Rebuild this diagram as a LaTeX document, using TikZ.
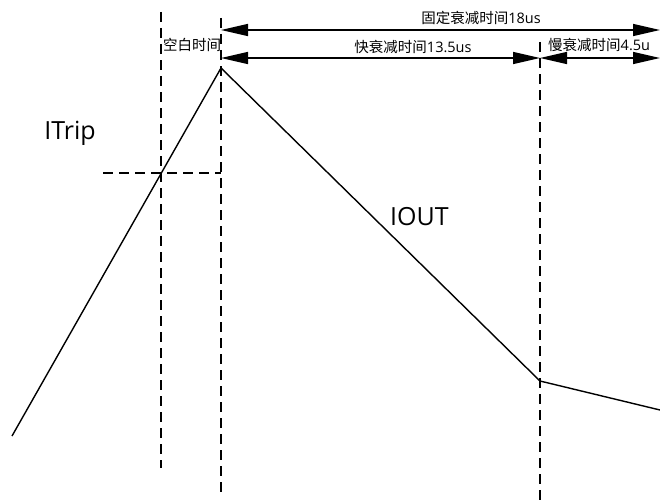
\documentclass[tikz,border=0pt]{standalone}
\usepackage{fontspec}
\setmainfont{Open Sans}
\newfontfamily\cjk{Noto Sans CJK SC}
\usetikzlibrary{arrows.meta}
\begin{document}
\begin{tikzpicture}[x=1pt,y=-1pt,
  guide/.style={line width=1.4pt,dash pattern=on 10pt off 6pt},
  curve/.style={line width=1.4pt,line join=miter},
  span/.style={line width=1.4pt,{Triangle[length=27pt,width=12pt]}-{Triangle[length=27pt,width=12pt]}},
  lbl/.style={inner sep=0pt,font=\fontsize{14.5}{16}\selectfont},
  big/.style={inner sep=0pt,font=\fontsize{25}{28}\selectfont}]
\useasboundingbox (0,0) rectangle (660,503);
% guide lines
\coordinate (g1t) at (161,12);  \coordinate (g1b) at (161,468);
\coordinate (g2t) at (221,18);  \coordinate (g2b) at (221,492);
\coordinate (g3t) at (540,42);  \coordinate (g3b) at (540,503);
\coordinate (hl) at (103,173);  \coordinate (hr) at (221,173);
\draw[guide] (g1t) -- (g1b);
\draw[guide] (g2t) -- (g2b);
\draw[guide] (g3t) -- (g3b);
\draw[guide] (hl) -- (hr);
% current curve
\coordinate (p0) at (12,436);
\coordinate (p1) at (221,68);
\coordinate (p2) at (540,381);
\coordinate (p3) at (660,410);
\draw[curve] (p0) -- (p1) -- (p2) -- (p3);
% spans
\coordinate (a1l) at (221,30); \coordinate (a1r) at (660,30);
\coordinate (a2l) at (221,58); \coordinate (a2m) at (540,58); \coordinate (a2r) at (660,58);
\draw[span] (a1l) -- (a1r);
\draw[span] (a2l) -- (a2m);
\draw[span] (a2m) -- (a2r);
% labels
\node[lbl] (t1) at (481,18) {{\cjk 固定衰减时间}18us};
\node[lbl] (t2) at (413,47) {{\cjk 快衰减时间}13.5us};
\node[lbl,anchor=west] (t3) at (548,45) {{\cjk 慢衰减时间}4.5u};
\node[lbl,anchor=west] (t4) at (163,45) {\cjk 空白时间};
\node[big,anchor=east] (itrip) at (96,133) {ITrip};
\node[big,anchor=west] (iout) at (390,217) {IOUT};
\end{tikzpicture}
\end{document}
